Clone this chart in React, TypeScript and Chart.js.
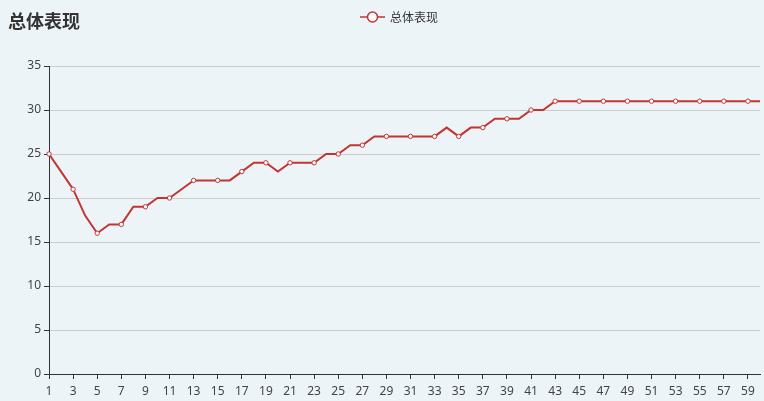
import React, { useEffect, useRef } from "react";
import { Chart, registerables } from "chart.js";

Chart.register(...registerables);

const categories: string[] = [
  "1", "2", "3", "4", "5", "6", "7", "8", "9", "10",
  "11", "12", "13", "14", "15", "16", "17", "18", "19", "20",
  "21", "22", "23", "24", "25", "26", "27", "28", "29", "30",
  "31", "32", "33", "34", "35", "36", "37", "38", "39", "40",
  "41", "42", "43", "44", "45", "46", "47", "48", "49", "50",
  "51", "52", "53", "54", "55", "56", "57", "58", "59", "60",
];

const overallValues: number[] = [
  25, 23, 21, 18, 16, 17, 17, 19, 19, 20,
  20, 21, 22, 22, 22, 22, 23, 24, 24, 23,
  24, 24, 24, 25, 25, 26, 26, 27, 27, 27,
  27, 27, 27, 28, 27, 28, 28, 29, 29, 29,
  30, 30, 31, 31, 31, 31, 31, 31, 31, 31,
  31, 31, 31, 31, 31, 31, 31, 31, 31, 31,
];

const yTicks: number[] = [0, 5, 10, 15, 20, 25, 30, 35];

const titleText = "总体表现";
const seriesName = "总体表现";
const RED = "#c23531";
const BG = "#edf4f8";

const decorPlugin = {
  id: "decor",
  beforeDraw(chart: any) {
    const ctx = chart.ctx;
    ctx.save();
    ctx.fillStyle = BG;
    ctx.fillRect(0, 0, chart.width, chart.height);
    ctx.restore();
  },
  afterDraw(chart: any) {
    const ctx = chart.ctx;
    ctx.save();
    // title
    ctx.fillStyle = "#333";
    ctx.font = "bold 18px 'Noto Sans CJK SC', sans-serif";
    ctx.textBaseline = "middle";
    ctx.textAlign = "left";
    ctx.fillText(titleText, 8, 21);
    // legend
    ctx.strokeStyle = "rgba(194,53,49,0.75)";
    ctx.lineWidth = 2;
    ctx.beginPath();
    ctx.moveTo(360, 17);
    ctx.lineTo(385, 17);
    ctx.stroke();
    ctx.beginPath();
    ctx.arc(372.5, 17, 5, 0, Math.PI * 2);
    ctx.fillStyle = "#fff";
    ctx.fill();
    ctx.strokeStyle = RED;
    ctx.lineWidth = 1.5;
    ctx.stroke();
    ctx.fillStyle = "#333";
    ctx.font = "12px 'Noto Sans CJK SC', sans-serif";
    ctx.fillText(seriesName, 390, 17);
    ctx.restore();
  },
};

export default function App() {
  const ref = useRef<HTMLCanvasElement | null>(null);

  useEffect(() => {
    document.body.style.margin = "0";
    document.body.style.background = BG;
    if (!ref.current) return;
    const chart = new Chart(ref.current, {
      type: "line",
      data: {
        labels: categories,
        datasets: [
          {
            label: seriesName,
            data: overallValues,
            borderColor: RED,
            borderWidth: 2,
            backgroundColor: "#fff",
            pointBackgroundColor: "#fff",
            pointBorderColor: RED,
            pointBorderWidth: 1,
            pointRadius: (c: any) => (c.dataIndex % 2 === 0 ? 2.2 : 0),
            pointHoverRadius: 3,
            tension: 0,
            fill: false,
          },
        ],
      },
      options: {
        animation: false,
        responsive: false,
        maintainAspectRatio: false,
        layout: { padding: { top: 66, right: 2, left: 0, bottom: 0 } },
        plugins: {
          legend: { display: false },
          title: { display: false },
          tooltip: { enabled: false },
        },
        scales: {
          x: {
            type: "category",
            offset: false,
            afterFit: (s: any) => {
              s.height = 27;
              s.paddingLeft = 0;
              s.paddingRight = 0;
            },
            grid: {
              drawOnChartArea: false,
              tickLength: 5,
              tickColor: (c: any) => (c.index % 2 === 0 ? "#333" : "rgba(0,0,0,0)"),
            },
            border: { color: "#333", width: 1 },
            ticks: {
              autoSkip: false,
              maxRotation: 0,
              padding: 5,
              color: "#444",
              font: { size: 12, family: "'Noto Sans', sans-serif" },
              callback: (_v: any, i: number) => (i % 2 === 0 ? categories[i] : ""),
            },
          },
          y: {
            min: 0,
            max: 35,
            afterFit: (s: any) => {
              s.width = 49;
            },
            afterBuildTicks: (s: any) => {
              s.ticks = yTicks.map((v) => ({ value: v }));
            },
            grid: {
              color: "#ccc",
              tickColor: "#333",
              tickLength: 5,
            },
            border: { color: "#333", width: 1 },
            ticks: {
              padding: 3,
              color: "#444",
              font: { size: 12, family: "'Noto Sans', sans-serif" },
            },
          },
        },
      },
      plugins: [decorPlugin],
    });
    return () => chart.destroy();
  }, []);

  return (
    <div style={{ width: 764, height: 401 }}>
      <canvas ref={ref} width={764} height={401} style={{ width: 764, height: 401, display: "block" }} />
    </div>
  );
}
